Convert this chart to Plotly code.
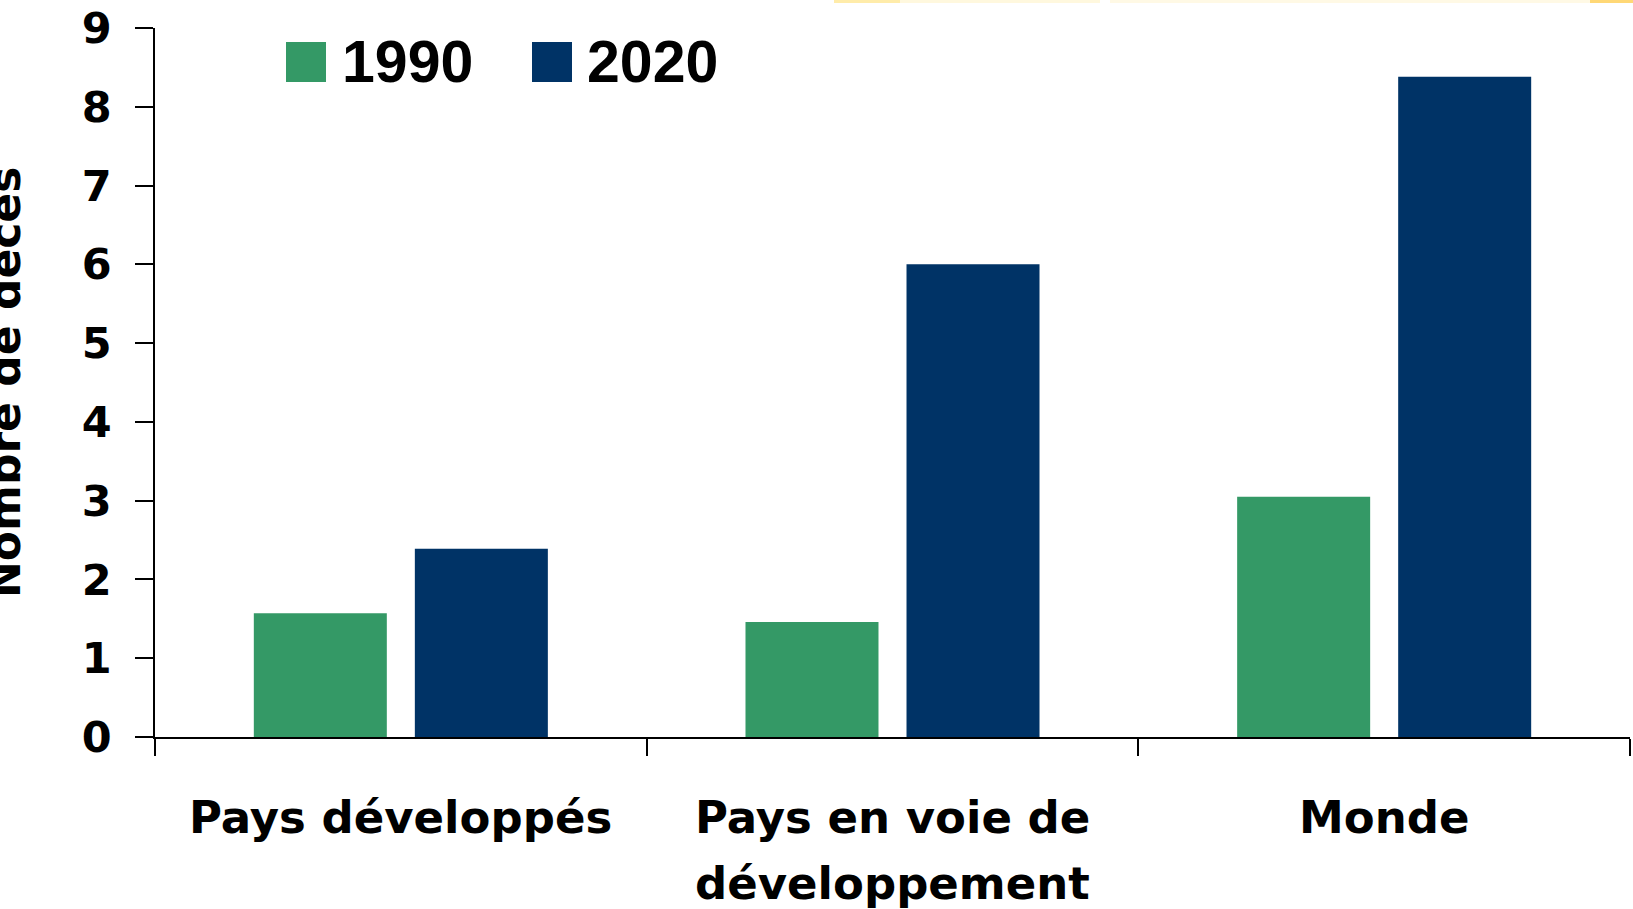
import plotly.graph_objects as go

# --- data -------------------------------------------------------------
categories = ["Pays développés", "Pays en voie de développement", "Monde"]
label_lines = [["Pays développés"], ["Pays en voie de", "développement"], ["Monde"]]
years = ["1990", "2020"]
deaths_1990 = [1.57, 1.46, 3.05]
deaths_2020 = [2.39, 6.00, 8.38]
y_ticks = [0, 1, 2, 3, 4, 5, 6, 7, 8, 9]
y_title = "Nombre de décès"

# --- styling ----------------------------------------------------------
GREEN = "#349966"
NAVY = "#003366"
BOLD_WIDE = dict(family="DejaVu Sans", weight="bold", color="black")
BOLD_ARIAL = dict(family="Liberation Sans", weight="bold", color="black")

W, H = 1633, 909
ML, MR, MT, MB = 155, 3, 28, 172
PW, PH = W - ML - MR, H - MT - MB


def paper_x(px):
    return (px - ML) / PW


def paper_y(py):
    return (H - MB - py) / PH


fig = go.Figure()
fig.add_trace(go.Bar(x=categories, y=deaths_1990, name=years[0],
                     marker=dict(color=GREEN, line=dict(width=0)), showlegend=False))
fig.add_trace(go.Bar(x=categories, y=deaths_2020, name=years[1],
                     marker=dict(color=NAVY, line=dict(width=0)), showlegend=False))

annotations = []

# category labels under the axis, one annotation per line
line_centers = [817, 883]
for cat, lines in zip(categories, label_lines):
    for i, txt in enumerate(lines):
        annotations.append(dict(
            x=cat, xref="x", y=paper_y(line_centers[i]), yref="paper",
            text=txt, showarrow=False, xanchor="center", yanchor="middle",
            font=dict(size=45, **BOLD_WIDE),
        ))

# rotated axis title, partly running off the left edge
annotations.append(dict(
    x=paper_x(4), xref="paper", y=paper_y(383), yref="paper",
    text=y_title, textangle=-90, showarrow=False,
    xanchor="center", yanchor="middle",
    font=dict(size=44, **BOLD_WIDE),
))

# legend: coloured squares with the year next to each
shapes = []
legend_items = [(years[0], GREEN, 286, 340), (years[1], NAVY, 532, 585)]
for label, color, sq_left, txt_left in legend_items:
    shapes.append(dict(
        type="rect", xref="paper", yref="paper",
        x0=paper_x(sq_left), x1=paper_x(sq_left + 40),
        y0=paper_y(82), y1=paper_y(42),
        fillcolor=color, line=dict(width=0),
    ))
    annotations.append(dict(
        x=paper_x(txt_left), xref="paper", y=paper_y(62), yref="paper",
        text=label, showarrow=False, xanchor="left", yanchor="middle",
        font=dict(size=59, **BOLD_ARIAL),
    ))

# faint yellow band along the top edge
for x0, x1, col in [(834, 900, "rgba(255,220,100,0.55)"),
                    (900, 1100, "rgba(255,235,160,0.35)"),
                    (1110, 1590, "rgba(255,238,180,0.35)"),
                    (1590, 1633, "rgba(255,200,60,0.7)")]:
    shapes.append(dict(
        type="rect", xref="paper", yref="paper",
        x0=paper_x(x0), x1=paper_x(x1), y0=paper_y(3), y1=paper_y(0),
        fillcolor=col, line=dict(width=0), layer="below",
    ))

fig.update_layout(
    width=W, height=H,
    margin=dict(l=ML, r=MR, t=MT, b=MB, pad=0),
    paper_bgcolor="white", plot_bgcolor="white",
    barmode="group", bargap=0.345, bargroupgap=0.174,
    showlegend=False,
    annotations=annotations, shapes=shapes,
    xaxis=dict(
        type="category", categoryorder="array", categoryarray=categories,
        showline=True, linecolor="black", linewidth=1.5,
        ticks="outside", tickson="boundaries", ticklen=17,
        tickcolor="black", tickwidth=1.5,
        showticklabels=False, showgrid=False, zeroline=False,
    ),
    yaxis=dict(
        range=[0, 9], tickvals=y_ticks,
        showline=True, linecolor="black", linewidth=1.5,
        ticks="outside", ticklen=18, tickcolor="black", tickwidth=1.5,
        tickfont=dict(size=43, **BOLD_WIDE), ticklabelstandoff=15,
        showgrid=False, zeroline=False,
    ),
)

fig.write_html("out.html")
